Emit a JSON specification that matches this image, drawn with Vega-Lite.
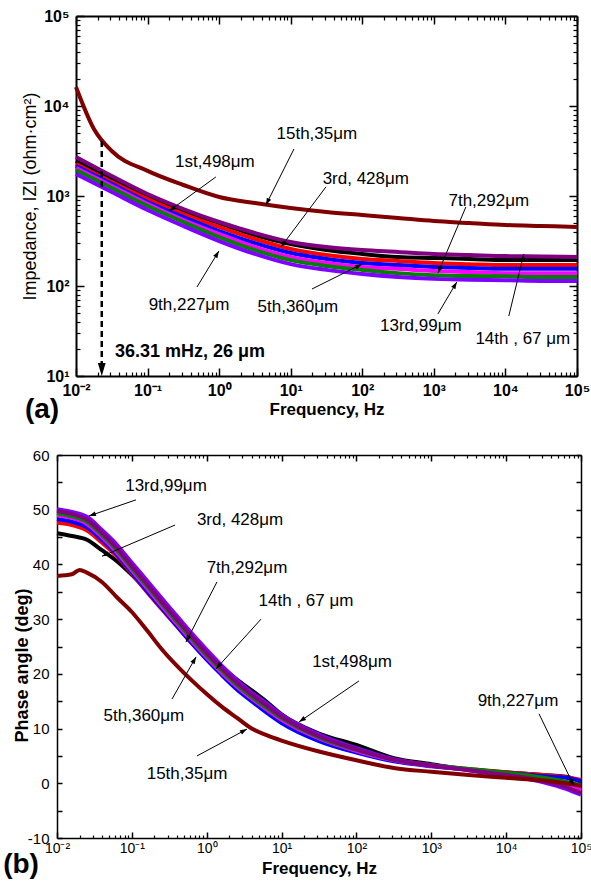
{
"$schema": "https://vega.github.io/schema/vega-lite/v6.json",
"padding": {"left": 3, "top": 8, "right": 5, "bottom": 0},
"spacing": 24,
"config": {
  "view": {"stroke": null},
  "font": "Liberation Sans",
  "axis": {"grid": false, "domainColor": "#000", "tickColor": "#000", "labelColor": "#000", "titleColor": "#000", "labelFont": "Liberation Sans", "titleFont": "Liberation Sans", "labelFlush": false, "labelOverlap": false},
  "text": {"font": "Liberation Sans"}
},
"datasets": {
  "imp": [
    {"s":"1st","f":0.01,"z":2449},{"s":"1st","f":0.0316,"z":1545},{"s":"1st","f":0.1,"z":1000},{"s":"1st","f":0.316,"z":681},{"s":"1st","f":1,"z":501},{"s":"1st","f":3.16,"z":369},{"s":"1st","f":10,"z":293},{"s":"1st","f":31.6,"z":251},{"s":"1st","f":100,"z":227},{"s":"1st","f":316,"z":210},{"s":"1st","f":1000,"z":205},{"s":"1st","f":3162,"z":200},{"s":"1st","f":10000,"z":194},{"s":"1st","f":31623,"z":194},{"s":"1st","f":100000,"z":194},
    {"s":"3rd","f":0.01,"z":2268},{"s":"3rd","f":0.0316,"z":1431},{"s":"3rd","f":0.1,"z":926},{"s":"3rd","f":0.316,"z":631},{"s":"3rd","f":1,"z":453},{"s":"3rd","f":3.16,"z":333},{"s":"3rd","f":10,"z":258},{"s":"3rd","f":31.6,"z":221},{"s":"3rd","f":100,"z":200},{"s":"3rd","f":316,"z":190},{"s":"3rd","f":1000,"z":180},{"s":"3rd","f":3162,"z":175},{"s":"3rd","f":10000,"z":171},{"s":"3rd","f":31623,"z":171},{"s":"3rd","f":100000,"z":171},
    {"s":"5th","f":0.01,"z":2154},{"s":"5th","f":0.0316,"z":1359},{"s":"5th","f":0.1,"z":858},{"s":"5th","f":0.316,"z":584},{"s":"5th","f":1,"z":408},{"s":"5th","f":3.16,"z":300},{"s":"5th","f":10,"z":233},{"s":"5th","f":31.6,"z":200},{"s":"5th","f":100,"z":180},{"s":"5th","f":316,"z":171},{"s":"5th","f":1000,"z":163},{"s":"5th","f":3162,"z":158},{"s":"5th","f":10000,"z":155},{"s":"5th","f":31623,"z":155},{"s":"5th","f":100000,"z":155},
    {"s":"7th","f":0.01,"z":2047},{"s":"7th","f":0.0316,"z":1292},{"s":"7th","f":0.1,"z":815},{"s":"7th","f":0.316,"z":541},{"s":"7th","f":1,"z":378},{"s":"7th","f":3.16,"z":271},{"s":"7th","f":10,"z":210},{"s":"7th","f":31.6,"z":180},{"s":"7th","f":100,"z":163},{"s":"7th","f":316,"z":155},{"s":"7th","f":1000,"z":147},{"s":"7th","f":3162,"z":143},{"s":"7th","f":10000,"z":139},{"s":"7th","f":31623,"z":139},{"s":"7th","f":100000,"z":139},
    {"s":"9th","f":0.01,"z":1945},{"s":"9th","f":0.0316,"z":1227},{"s":"9th","f":0.1,"z":774},{"s":"9th","f":0.316,"z":514},{"s":"9th","f":1,"z":350},{"s":"9th","f":3.16,"z":251},{"s":"9th","f":10,"z":194},{"s":"9th","f":31.6,"z":167},{"s":"9th","f":100,"z":151},{"s":"9th","f":316,"z":139},{"s":"9th","f":1000,"z":132},{"s":"9th","f":3162,"z":129},{"s":"9th","f":10000,"z":128},{"s":"9th","f":31623,"z":126},{"s":"9th","f":100000,"z":126},
    {"s":"13rd","f":0.01,"z":1755},{"s":"13rd","f":0.0316,"z":1107},{"s":"13rd","f":0.1,"z":699},{"s":"13rd","f":0.316,"z":464},{"s":"13rd","f":1,"z":316},{"s":"13rd","f":3.16,"z":227},{"s":"13rd","f":10,"z":175},{"s":"13rd","f":31.6,"z":151},{"s":"13rd","f":100,"z":136},{"s":"13rd","f":316,"z":126},{"s":"13rd","f":1000,"z":120},{"s":"13rd","f":3162,"z":117},{"s":"13rd","f":10000,"z":116},{"s":"13rd","f":31623,"z":114},{"s":"13rd","f":100000,"z":114},
    {"s":"14th","f":0.01,"z":2713},{"s":"14th","f":0.0316,"z":1668},{"s":"14th","f":0.1,"z":1052},{"s":"14th","f":0.316,"z":717},{"s":"14th","f":1,"z":514},{"s":"14th","f":3.16,"z":388},{"s":"14th","f":10,"z":308},{"s":"14th","f":31.6,"z":271},{"s":"14th","f":100,"z":251},{"s":"14th","f":316,"z":239},{"s":"14th","f":1000,"z":227},{"s":"14th","f":3162,"z":221},{"s":"14th","f":10000,"z":215},{"s":"14th","f":31623,"z":213},{"s":"14th","f":100000,"z":210},
    {"s":"15th","f":0.01,"z":16250},{"s":"15th","f":0.0178,"z":5550},{"s":"15th","f":0.0316,"z":3160},{"s":"15th","f":0.1,"z":1900},{"s":"15th","f":0.316,"z":1325},{"s":"15th","f":1,"z":975},{"s":"15th","f":3.16,"z":836},{"s":"15th","f":10,"z":736},{"s":"15th","f":31.6,"z":664},{"s":"15th","f":100,"z":615},{"s":"15th","f":316,"z":570},{"s":"15th","f":1000,"z":527},{"s":"15th","f":3162,"z":501},{"s":"15th","f":10000,"z":476},{"s":"15th","f":31623,"z":464},{"s":"15th","f":100000,"z":453}
  ],
  "phase": [
    {"s":"1st","f":0.01,"p":45.7},{"s":"1st","f":0.0158,"p":45.2},{"s":"1st","f":0.0251,"p":44.5},{"s":"1st","f":0.0398,"p":42.6},{"s":"1st","f":0.0631,"p":40.6},{"s":"1st","f":0.1,"p":38.1},{"s":"1st","f":0.158,"p":35.3},{"s":"1st","f":0.251,"p":32.3},{"s":"1st","f":0.398,"p":29.4},{"s":"1st","f":0.631,"p":26.5},{"s":"1st","f":1,"p":23.8},{"s":"1st","f":1.585,"p":21.3},{"s":"1st","f":2.512,"p":19.0},{"s":"1st","f":3.981,"p":17.0},{"s":"1st","f":6.31,"p":14.9},{"s":"1st","f":10,"p":12.6},{"s":"1st","f":31.62,"p":9.1},{"s":"1st","f":100,"p":7.0},{"s":"1st","f":316.2,"p":4.6},{"s":"1st","f":1000,"p":3.5},{"s":"1st","f":3162,"p":2.5},{"s":"1st","f":10000,"p":2.0},{"s":"1st","f":31623,"p":1.5},{"s":"1st","f":63096,"p":1.2},{"s":"1st","f":100000,"p":0.3},
    {"s":"3rd","f":0.01,"p":47.6},{"s":"3rd","f":0.0158,"p":47.2},{"s":"3rd","f":0.0251,"p":46.2},{"s":"3rd","f":0.0398,"p":44.0},{"s":"3rd","f":0.0631,"p":41.5},{"s":"3rd","f":0.1,"p":38.3},{"s":"3rd","f":0.158,"p":35.0},{"s":"3rd","f":0.251,"p":31.8},{"s":"3rd","f":0.398,"p":28.7},{"s":"3rd","f":0.631,"p":25.6},{"s":"3rd","f":1,"p":22.7},{"s":"3rd","f":1.585,"p":20.0},{"s":"3rd","f":2.512,"p":17.5},{"s":"3rd","f":3.981,"p":15.3},{"s":"3rd","f":6.31,"p":13.3},{"s":"3rd","f":10,"p":11.5},{"s":"3rd","f":31.62,"p":8.2},{"s":"3rd","f":100,"p":6.0},{"s":"3rd","f":316.2,"p":4.3},{"s":"3rd","f":1000,"p":3.3},{"s":"3rd","f":3162,"p":2.6},{"s":"3rd","f":10000,"p":2.0},{"s":"3rd","f":31623,"p":1.5},{"s":"3rd","f":63096,"p":1.1},{"s":"3rd","f":100000,"p":0.6},
    {"s":"5th","f":0.01,"p":48.3},{"s":"5th","f":0.0158,"p":47.8},{"s":"5th","f":0.0251,"p":46.8},{"s":"5th","f":0.0398,"p":44.5},{"s":"5th","f":0.0631,"p":41.8},{"s":"5th","f":0.1,"p":38.5},{"s":"5th","f":0.158,"p":35.2},{"s":"5th","f":0.251,"p":32.0},{"s":"5th","f":0.398,"p":28.8},{"s":"5th","f":0.631,"p":25.6},{"s":"5th","f":1,"p":22.6},{"s":"5th","f":1.585,"p":19.8},{"s":"5th","f":2.512,"p":17.2},{"s":"5th","f":3.981,"p":15.0},{"s":"5th","f":6.31,"p":12.9},{"s":"5th","f":10,"p":11.0},{"s":"5th","f":31.62,"p":7.7},{"s":"5th","f":100,"p":5.6},{"s":"5th","f":316.2,"p":4.0},{"s":"5th","f":1000,"p":3.1},{"s":"5th","f":3162,"p":2.5},{"s":"5th","f":10000,"p":1.9},{"s":"5th","f":31623,"p":1.3},{"s":"5th","f":63096,"p":1.0},{"s":"5th","f":100000,"p":0.4},
    {"s":"7th","f":0.01,"p":49.0},{"s":"7th","f":0.0158,"p":48.5},{"s":"7th","f":0.0251,"p":47.4},{"s":"7th","f":0.0398,"p":45.0},{"s":"7th","f":0.0631,"p":42.2},{"s":"7th","f":0.1,"p":38.9},{"s":"7th","f":0.158,"p":35.7},{"s":"7th","f":0.251,"p":32.4},{"s":"7th","f":0.398,"p":29.2},{"s":"7th","f":0.631,"p":26.0},{"s":"7th","f":1,"p":23.0},{"s":"7th","f":1.585,"p":20.2},{"s":"7th","f":2.512,"p":17.7},{"s":"7th","f":3.981,"p":15.5},{"s":"7th","f":6.31,"p":13.5},{"s":"7th","f":10,"p":11.6},{"s":"7th","f":31.62,"p":8.2},{"s":"7th","f":100,"p":5.9},{"s":"7th","f":316.2,"p":4.2},{"s":"7th","f":1000,"p":3.2},{"s":"7th","f":3162,"p":2.5},{"s":"7th","f":10000,"p":1.7},{"s":"7th","f":31623,"p":0.7},{"s":"7th","f":63096,"p":-0.2},{"s":"7th","f":100000,"p":-1.2},
    {"s":"9th","f":0.01,"p":49.4},{"s":"9th","f":0.0158,"p":48.8},{"s":"9th","f":0.0251,"p":47.8},{"s":"9th","f":0.0398,"p":45.4},{"s":"9th","f":0.0631,"p":42.6},{"s":"9th","f":0.1,"p":39.3},{"s":"9th","f":0.158,"p":36.1},{"s":"9th","f":0.251,"p":32.8},{"s":"9th","f":0.398,"p":29.6},{"s":"9th","f":0.631,"p":26.4},{"s":"9th","f":1,"p":23.4},{"s":"9th","f":1.585,"p":20.6},{"s":"9th","f":2.512,"p":18.0},{"s":"9th","f":3.981,"p":15.8},{"s":"9th","f":6.31,"p":13.8},{"s":"9th","f":10,"p":11.9},{"s":"9th","f":31.62,"p":8.4},{"s":"9th","f":100,"p":6.1},{"s":"9th","f":316.2,"p":4.3},{"s":"9th","f":1000,"p":3.3},{"s":"9th","f":3162,"p":2.6},{"s":"9th","f":10000,"p":1.9},{"s":"9th","f":31623,"p":1.0},{"s":"9th","f":63096,"p":0.3},{"s":"9th","f":100000,"p":-0.4},
    {"s":"13rd","f":0.01,"p":50.1},{"s":"13rd","f":0.0158,"p":49.6},{"s":"13rd","f":0.0251,"p":48.7},{"s":"13rd","f":0.0398,"p":46.3},{"s":"13rd","f":0.0631,"p":43.6},{"s":"13rd","f":0.1,"p":40.3},{"s":"13rd","f":0.158,"p":37.1},{"s":"13rd","f":0.251,"p":33.8},{"s":"13rd","f":0.398,"p":30.6},{"s":"13rd","f":0.631,"p":27.4},{"s":"13rd","f":1,"p":24.4},{"s":"13rd","f":1.585,"p":21.5},{"s":"13rd","f":2.512,"p":18.9},{"s":"13rd","f":3.981,"p":16.6},{"s":"13rd","f":6.31,"p":14.6},{"s":"13rd","f":10,"p":12.5},{"s":"13rd","f":31.62,"p":8.9},{"s":"13rd","f":100,"p":6.4},{"s":"13rd","f":316.2,"p":4.4},{"s":"13rd","f":1000,"p":3.3},{"s":"13rd","f":3162,"p":2.4},{"s":"13rd","f":10000,"p":1.4},{"s":"13rd","f":31623,"p":0.2},{"s":"13rd","f":63096,"p":-1.0},{"s":"13rd","f":100000,"p":-2.1},
    {"s":"14th","f":0.01,"p":49.8},{"s":"14th","f":0.0158,"p":49.2},{"s":"14th","f":0.0251,"p":48.2},{"s":"14th","f":0.0398,"p":45.8},{"s":"14th","f":0.0631,"p":43.0},{"s":"14th","f":0.1,"p":39.7},{"s":"14th","f":0.158,"p":36.5},{"s":"14th","f":0.251,"p":33.2},{"s":"14th","f":0.398,"p":30.0},{"s":"14th","f":0.631,"p":26.8},{"s":"14th","f":1,"p":23.8},{"s":"14th","f":1.585,"p":21.0},{"s":"14th","f":2.512,"p":18.4},{"s":"14th","f":3.981,"p":16.2},{"s":"14th","f":6.31,"p":14.2},{"s":"14th","f":10,"p":12.2},{"s":"14th","f":31.62,"p":8.6},{"s":"14th","f":100,"p":6.2},{"s":"14th","f":316.2,"p":4.3},{"s":"14th","f":1000,"p":3.2},{"s":"14th","f":3162,"p":2.4},{"s":"14th","f":10000,"p":1.5},{"s":"14th","f":31623,"p":0.4},{"s":"14th","f":63096,"p":-0.7},{"s":"14th","f":100000,"p":-1.8},
    {"s":"15th","f":0.01,"p":37.9},{"s":"15th","f":0.0158,"p":38.2},{"s":"15th","f":0.02,"p":39.0},{"s":"15th","f":0.0251,"p":38.5},{"s":"15th","f":0.0398,"p":36.8},{"s":"15th","f":0.0631,"p":34.0},{"s":"15th","f":0.1,"p":31.3},{"s":"15th","f":0.158,"p":28.0},{"s":"15th","f":0.251,"p":24.5},{"s":"15th","f":0.398,"p":21.5},{"s":"15th","f":0.631,"p":18.8},{"s":"15th","f":1,"p":16.3},{"s":"15th","f":1.585,"p":14.0},{"s":"15th","f":2.512,"p":12.0},{"s":"15th","f":3.981,"p":10.0},{"s":"15th","f":6.31,"p":8.8},{"s":"15th","f":10,"p":7.8},{"s":"15th","f":31.62,"p":5.8},{"s":"15th","f":100,"p":4.2},{"s":"15th","f":316.2,"p":2.8},{"s":"15th","f":1000,"p":2.1},{"s":"15th","f":3162,"p":1.5},{"s":"15th","f":10000,"p":1.0},{"s":"15th","f":31623,"p":0.5},{"s":"15th","f":63096,"p":0.0},{"s":"15th","f":100000,"p":-0.5}
  ],
  "annA": [
    {"t":"15th,35μm","lx":23.2,"ly":4887,"x1":11.1,"y1":3327,"x2":4.5,"y2":794,"dir":206.6},
    {"t":"1st,498μm","lx":0.873,"ly":2387,"x1":0.9,"y1":1626,"x2":0.199,"y2":681,"dir":234.1},
    {"t":"3rd, 428μm","lx":112,"ly":1545,"x1":31,"y1":1259,"x2":7.3,"y2":271,"dir":216.9},
    {"t":"7th,292μm","lx":5860,"ly":880,"x1":2800,"y1":755,"x2":1138,"y2":139,"dir":203},
    {"t":"9th,227μm","lx":0.379,"ly":61.5,"x1":0.49,"y1":97.5,"x2":0.993,"y2":245,"dir":31.4},
    {"t":"5th,360μm","lx":12.6,"ly":58.4,"x1":19.8,"y1":92.6,"x2":98.7,"y2":175,"dir":63.4},
    {"t":"13rd,99μm","lx":658,"ly":35.9,"x1":1138,"y1":48.9,"x2":2094,"y2":111,"dir":30.7},
    {"t":"14th , 67 μm","lx":17500,"ly":25.8,"x1":11150,"y1":46.4,"x2":18070,"y2":227,"dir":13.6}
  ],
  "annB": [
    {"t":"13rd,99μm","lx":0.286,"ly":54.3,"x1":0.1135,"y1":51.8,"x2":0.0267,"y2":48.85,"dir":251.2},
    {"t":"3rd, 428μm","lx":2.79,"ly":48.1,"x1":0.377,"y1":47.2,"x2":0.0399,"y2":41.5,"dir":247},
    {"t":"7th,292μm","lx":3.45,"ly":39.3,"x1":1.371,"y1":36.8,"x2":0.528,"y2":25.8,"dir":207.3},
    {"t":"14th , 67 μm","lx":21.2,"ly":33.3,"x1":5.31,"y1":30.0,"x2":1.33,"y2":20.9,"dir":222},
    {"t":"1st,498μm","lx":87.3,"ly":22.2,"x1":108,"y1":18.7,"x2":17.1,"y2":11.2,"dir":235.7},
    {"t":"9th,227μm","lx":14390,"ly":15.0,"x1":27480,"y1":12.7,"x2":80540,"y2":-0.5,"dir":154.1},
    {"t":"5th,360μm","lx":0.145,"ly":12.3,"x1":0.344,"y1":15.4,"x2":0.72,"y2":23.1,"dir":29.7},
    {"t":"15th,35μm","lx":0.546,"ly":1.7,"x1":0.741,"y1":5.0,"x2":3.45,"y2":9.9,"dir":61.6}
  ],
  "dash": [{"f":0.0229,"top":4080,"bot":13.6,"tip":10}],
  "note": [{"f":0.0351,"z":18.5,"t":"36.31 mHz, 26 μm"}],
  "tagA": [{"f":0.01,"z":10,"t":"(a)"}],
  "tagB": [{"f":0.01,"p":-10,"t":"(b)"}]
},
"vconcat": [
  {
    "width": 520, "height": 360,
    "resolve": {"axis": {"x": "independent", "y": "independent"}},
    "layer": [
      {
        "data": {"name": "imp"},
        "mark": {"type": "line", "strokeWidth": 4, "interpolate": "monotone"},
        "encoding": {
          "x": {"field": "f", "type": "quantitative", "scale": {"type": "log", "domain": [0.01, 100000], "range": [19, 520], "nice": false},
            "axis": {"orient": "bottom", "values": [0.01,0.1,1,10,100,1000,10000,100000], "labelExpr": "datum.value < 0.05 ? '10⁻²' : datum.value < 0.5 ? '10⁻¹' : datum.value < 5 ? '10⁰' : datum.value < 50 ? '10¹' : datum.value < 500 ? '10²' : datum.value < 5000 ? '10³' : datum.value < 50000 ? '10⁴' : '10⁵'", "labelFontSize": 16, "labelFontWeight": "bold", "labelPadding": 14, "tickSize": -8, "tickWidth": 1.5, "domainWidth": 2, "title": "Frequency, Hz", "titleFontSize": 17, "titleFontWeight": "bold", "titleY": 38, "titleBaseline": "alphabetic"}},
          "y": {"field": "z", "type": "quantitative", "scale": {"type": "log", "domain": [10, 100000], "nice": false},
            "axis": {"orient": "left", "offset": -19, "values": [10,100,1000,10000,100000], "labelExpr": "datum.value < 50 ? '10¹' : datum.value < 500 ? '10²' : datum.value < 5000 ? '10³' : datum.value < 50000 ? '10⁴' : '10⁵'", "labelFontSize": 16, "labelFontWeight": "bold", "labelPadding": 15, "tickSize": -8, "tickWidth": 1.5, "domainWidth": 2, "title": "Impedance, IZI (ohm·cm²)", "titleFontSize": 18, "titleFontWeight": "normal", "titlePadding": 4}},
          "color": {"field": "s", "type": "nominal", "legend": null, "scale": {"domain": ["1st","3rd","5th","7th","9th","13rd","14th","15th"], "range": ["#000000","#FF0000","#0000FF","#FF00FF","#008000","#8000FF","#800080","#800000"]}}
        }
      },
      {
        "data": {"name": "annA"},
        "mark": {"type": "rule", "strokeWidth": 1, "color": "#000"},
        "encoding": {
          "x": {"field": "x1", "type": "quantitative", "scale": {"type": "log", "domain": [0.01, 100000], "range": [19, 520], "nice": false},
            "axis": {"orient": "bottom", "values": [0.02,0.03,0.04,0.05,0.06,0.07,0.08,0.09,0.2,0.3,0.4,0.5,0.6,0.7,0.8,0.9,2,3,4,5,6,7,8,9,20,30,40,50,60,70,80,90,200,300,400,500,600,700,800,900,2000,3000,4000,5000,6000,7000,8000,9000,20000,30000,40000,50000,60000,70000,80000,90000], "labels": false, "domain": false, "tickSize": -4, "tickWidth": 1.2, "title": null}},
          "y": {"field": "y1", "type": "quantitative", "scale": {"type": "log", "domain": [10, 100000], "nice": false},
            "axis": {"orient": "left", "offset": -19, "values": [20,30,40,50,60,70,80,90,200,300,400,500,600,700,800,900,2000,3000,4000,5000,6000,7000,8000,9000,20000,30000,40000,50000,60000,70000,80000,90000], "labels": false, "domain": false, "tickSize": -4, "tickWidth": 1.2, "title": null}},
          "x2": {"field": "x2"},
          "y2": {"field": "y2"}
        }
      },
      {
        "data": {"name": "annA"},
        "mark": {"type": "text", "fontSize": 17, "color": "#000", "align": "center", "baseline": "middle"},
        "encoding": {
          "x": {"field": "lx", "type": "quantitative", "scale": {"type": "log", "domain": [0.01, 100000], "range": [19, 520], "nice": false},
            "axis": {"orient": "top", "values": [0.01,0.1,1,10,100,1000,10000,100000], "labels": false, "tickSize": -8, "tickWidth": 1.5, "domainWidth": 2, "title": null}},
          "y": {"field": "ly", "type": "quantitative", "scale": {"type": "log", "domain": [10, 100000], "nice": false},
            "axis": {"orient": "right", "values": [10,100,1000,10000,100000], "labels": false, "tickSize": -8, "tickWidth": 1.5, "domainWidth": 2, "title": null}},
          "text": {"field": "t"}
        }
      },
      {
        "data": {"name": "annA"},
        "mark": {"type": "point", "shape": "M0,0L-0.35,1L0.35,1Z", "filled": true, "color": "#000", "opacity": 1, "size": 196},
        "encoding": {
          "x": {"field": "x2", "type": "quantitative", "scale": {"type": "log", "domain": [0.01, 100000], "range": [19, 520], "nice": false},
            "axis": {"orient": "top", "values": [0.02,0.03,0.04,0.05,0.06,0.07,0.08,0.09,0.2,0.3,0.4,0.5,0.6,0.7,0.8,0.9,2,3,4,5,6,7,8,9,20,30,40,50,60,70,80,90,200,300,400,500,600,700,800,900,2000,3000,4000,5000,6000,7000,8000,9000,20000,30000,40000,50000,60000,70000,80000,90000], "labels": false, "domain": false, "tickSize": -4, "tickWidth": 1.2, "title": null}},
          "y": {"field": "y2", "type": "quantitative", "scale": {"type": "log", "domain": [10, 100000], "nice": false},
            "axis": {"orient": "right", "values": [20,30,40,50,60,70,80,90,200,300,400,500,600,700,800,900,2000,3000,4000,5000,6000,7000,8000,9000,20000,30000,40000,50000,60000,70000,80000,90000], "labels": false, "domain": false, "tickSize": -4, "tickWidth": 1.2, "title": null}},
          "angle": {"field": "dir", "type": "quantitative", "scale": null}
        }
      },
      {
        "data": {"name": "dash"},
        "mark": {"type": "rule", "strokeDash": [6, 4], "strokeWidth": 2.5, "color": "#000"},
        "encoding": {
          "x": {"field": "f", "type": "quantitative", "scale": {"type": "log", "domain": [0.01, 100000], "range": [19, 520], "nice": false}, "axis": null},
          "y": {"field": "top", "type": "quantitative", "scale": {"type": "log", "domain": [10, 100000], "nice": false}, "axis": null},
          "y2": {"field": "bot"}
        }
      },
      {
        "data": {"name": "dash"},
        "mark": {"type": "point", "shape": "M0,0L-0.3,-1L0.3,-1Z", "filled": true, "color": "#000", "opacity": 1, "size": 676},
        "encoding": {
          "x": {"field": "f", "type": "quantitative", "scale": {"type": "log", "domain": [0.01, 100000], "range": [19, 520], "nice": false}, "axis": null},
          "y": {"field": "tip", "type": "quantitative", "scale": {"type": "log", "domain": [10, 100000], "nice": false}, "axis": null}
        }
      },
      {
        "data": {"name": "note"},
        "mark": {"type": "text", "fontSize": 18, "fontWeight": "bold", "align": "left", "baseline": "middle", "color": "#000"},
        "encoding": {
          "x": {"field": "f", "type": "quantitative", "scale": {"type": "log", "domain": [0.01, 100000], "range": [19, 520], "nice": false}, "axis": null},
          "y": {"field": "z", "type": "quantitative", "scale": {"type": "log", "domain": [10, 100000], "nice": false}, "axis": null},
          "text": {"field": "t"}
        }
      },
      {
        "data": {"name": "tagA"},
        "mark": {"type": "text", "fontSize": 28, "fontWeight": "bold", "align": "center", "baseline": "middle", "color": "#000", "dx": -34, "dy": 34},
        "encoding": {
          "x": {"field": "f", "type": "quantitative", "scale": {"type": "log", "domain": [0.01, 100000], "range": [19, 520], "nice": false}, "axis": null},
          "y": {"field": "z", "type": "quantitative", "scale": {"type": "log", "domain": [10, 100000], "nice": false}, "axis": null},
          "text": {"field": "t"}
        }
      }
    ]
  },
  {
    "width": 524, "height": 383,
    "resolve": {"axis": {"x": "independent", "y": "independent"}},
    "layer": [
      {
        "data": {"name": "phase"},
        "mark": {"type": "line", "strokeWidth": 4, "interpolate": "monotone"},
        "encoding": {
          "x": {"field": "f", "type": "quantitative", "scale": {"type": "log", "domain": [0.01, 100000], "nice": false},
            "axis": {"orient": "bottom", "values": [0.01,0.1,1,10,100,1000,10000,100000], "labelExpr": "datum.value < 0.05 ? '10⁻²' : datum.value < 0.5 ? '10⁻¹' : datum.value < 5 ? '10⁰' : datum.value < 50 ? '10¹' : datum.value < 500 ? '10²' : datum.value < 5000 ? '10³' : datum.value < 50000 ? '10⁴' : '10⁵'", "labelFontSize": 14, "labelFontWeight": "normal", "labelPadding": 9, "tickSize": -6, "tickWidth": 1.5, "domainWidth": 1.5, "title": "Frequency, Hz", "titleFontSize": 17, "titleFontWeight": "bold", "titleY": 35, "titleBaseline": "alphabetic"}},
          "y": {"field": "p", "type": "quantitative", "scale": {"domain": [-10, 60], "nice": false, "zero": false},
            "axis": {"orient": "left", "values": [-10,-5,0,5,10,15,20,25,30,35,40,45,50,55,60], "labelExpr": "datum.value % 10 == 0 ? '' + datum.value : ''", "labelFontSize": 15, "labelPadding": 13, "tickSize": -5, "tickWidth": 1.5, "domainWidth": 1.5, "title": "Phase angle (deg)", "titleFontSize": 18, "titleFontWeight": "bold", "titlePadding": -4, "titleY": 210}},
          "color": {"field": "s", "type": "nominal", "legend": null, "scale": {"domain": ["1st","3rd","5th","7th","9th","13rd","14th","15th"], "range": ["#000000","#FF0000","#0000FF","#FF00FF","#008000","#8000FF","#800080","#800000"]}}
        }
      },
      {
        "data": {"name": "annB"},
        "mark": {"type": "rule", "strokeWidth": 1, "color": "#000"},
        "encoding": {
          "x": {"field": "x1", "type": "quantitative", "scale": {"type": "log", "domain": [0.01, 100000], "nice": false},
            "axis": {"orient": "bottom", "values": [0.02,0.03,0.04,0.05,0.06,0.07,0.08,0.09,0.2,0.3,0.4,0.5,0.6,0.7,0.8,0.9,2,3,4,5,6,7,8,9,20,30,40,50,60,70,80,90,200,300,400,500,600,700,800,900,2000,3000,4000,5000,6000,7000,8000,9000,20000,30000,40000,50000,60000,70000,80000,90000], "labels": false, "domain": false, "tickSize": -3, "tickWidth": 1.2, "title": null}},
          "y": {"field": "y1", "type": "quantitative", "scale": {"domain": [-10, 60], "nice": false, "zero": false},
            "axis": {"orient": "right", "values": [-10,-5,0,5,10,15,20,25,30,35,40,45,50,55,60], "labels": false, "tickSize": -5, "tickWidth": 1.5, "domainWidth": 1.5, "title": null}},
          "x2": {"field": "x2"},
          "y2": {"field": "y2"}
        }
      },
      {
        "data": {"name": "annB"},
        "mark": {"type": "text", "fontSize": 17, "color": "#000", "align": "center", "baseline": "middle"},
        "encoding": {
          "x": {"field": "lx", "type": "quantitative", "scale": {"type": "log", "domain": [0.01, 100000], "nice": false},
            "axis": {"orient": "top", "values": [0.01,0.1,1,10,100,1000,10000,100000], "labels": false, "tickSize": -6, "tickWidth": 1.5, "domainWidth": 1.5, "title": null}},
          "y": {"field": "ly", "type": "quantitative", "scale": {"domain": [-10, 60], "nice": false, "zero": false}, "axis": null},
          "text": {"field": "t"}
        }
      },
      {
        "data": {"name": "annB"},
        "mark": {"type": "point", "shape": "M0,0L-0.35,1L0.35,1Z", "filled": true, "color": "#000", "opacity": 1, "size": 196},
        "encoding": {
          "x": {"field": "x2", "type": "quantitative", "scale": {"type": "log", "domain": [0.01, 100000], "nice": false},
            "axis": {"orient": "top", "values": [0.02,0.03,0.04,0.05,0.06,0.07,0.08,0.09,0.2,0.3,0.4,0.5,0.6,0.7,0.8,0.9,2,3,4,5,6,7,8,9,20,30,40,50,60,70,80,90,200,300,400,500,600,700,800,900,2000,3000,4000,5000,6000,7000,8000,9000,20000,30000,40000,50000,60000,70000,80000,90000], "labels": false, "domain": false, "tickSize": -3, "tickWidth": 1.2, "title": null}},
          "y": {"field": "y2", "type": "quantitative", "scale": {"domain": [-10, 60], "nice": false, "zero": false}, "axis": null},
          "angle": {"field": "dir", "type": "quantitative", "scale": null}
        }
      },
      {
        "data": {"name": "tagB"},
        "mark": {"type": "text", "fontSize": 28, "fontWeight": "bold", "align": "center", "baseline": "middle", "color": "#000", "dx": -36, "dy": 27},
        "encoding": {
          "x": {"field": "f", "type": "quantitative", "scale": {"type": "log", "domain": [0.01, 100000], "nice": false}, "axis": null},
          "y": {"field": "p", "type": "quantitative", "scale": {"domain": [-10, 60], "nice": false, "zero": false}, "axis": null},
          "text": {"field": "t"}
        }
      }
    ]
  }
]
}
